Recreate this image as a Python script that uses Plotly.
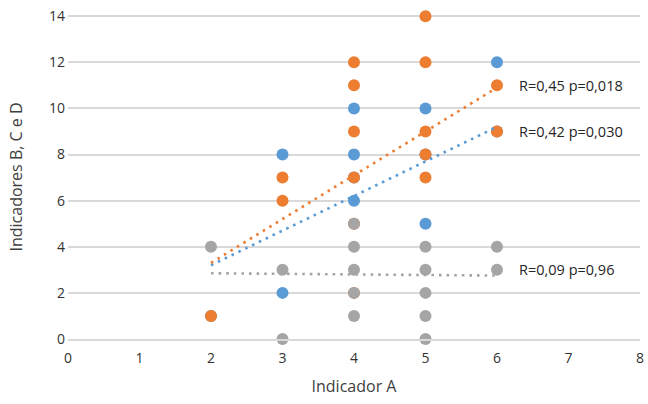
import plotly.graph_objects as go

# Series B (blue), C (orange), D (gray): x = Indicador A, y = indicator value
b_x = [2, 3, 3, 4, 4, 4, 4, 5, 5, 5, 6, 6]
b_y = [1, 8, 2, 10, 8, 7, 6, 10, 8, 5, 12, 9]
c_x = [2, 3, 3, 4, 4, 4, 4, 4, 4, 5, 5, 5, 5, 5, 6, 6]
c_y = [1, 7, 6, 12, 11, 9, 7, 5, 2, 14, 12, 9, 8, 7, 11, 9]
d_x = [2, 3, 3, 4, 4, 4, 4, 4, 5, 5, 5, 5, 5, 6, 6]
d_y = [4, 3, 0, 5, 4, 3, 2, 1, 4, 3, 2, 1, 0, 4, 3]

# Trend lines (endpoints at x=2 and x=6)
trend_x = [2, 6]
trend_b = [3.2, 9.2]
trend_c = [3.3, 10.9]
trend_d = [2.85, 2.75]

labels = ["R=0,45 p=0,018", "R=0,42 p=0,030", "R=0,09 p=0,96"]
label_y = [11.0, 9.0, 3.0]

x_ticks = [0, 1, 2, 3, 4, 5, 6, 7, 8]
y_ticks = [0, 2, 4, 6, 8, 10, 12, 14]

BLUE = "#5B9BD5"
ORANGE = "#ED7D31"
GRAY = "#A5A5A5"
TXT = "#333333"

fig = go.Figure()
for xs, ys, col in [(b_x, b_y, BLUE), (c_x, c_y, ORANGE), (d_x, d_y, GRAY)]:
    fig.add_trace(go.Scatter(x=xs, y=ys, mode="markers", cliponaxis=False,
                             marker=dict(color=col, size=12, line=dict(width=0)),
                             showlegend=False, hoverinfo="skip"))
for ys, col in [(trend_b, BLUE), (trend_c, ORANGE), (trend_d, GRAY)]:
    fig.add_trace(go.Scatter(x=trend_x, y=ys, mode="lines", cliponaxis=False,
                             line=dict(color=col, width=2.6, dash="2.6px,5px"),
                             showlegend=False, hoverinfo="skip"))

for t, yv in zip(labels, label_y):
    fig.add_annotation(x=6.28, y=yv, text=t, showarrow=False, xanchor="left",
                       yanchor="middle", font=dict(size=14.5, color="#262626"))

fig.update_layout(
    width=648, height=404,
    margin=dict(l=68, r=8, t=15, b=65),
    plot_bgcolor="white", paper_bgcolor="white",
    font=dict(family="Open Sans", color=TXT, size=14),
    xaxis=dict(range=[0, 8], tickvals=x_ticks, showgrid=False, zeroline=False,
               showline=True, linecolor="#D9D9D9", linewidth=1.5, automargin=False,
               title=dict(text="Indicador A", font=dict(size=16, color="#404040"), standoff=15),
               tickfont=dict(size=14, color=TXT), ticks="", ticklabelstandoff=5,
               ticklabeloverflow="allow", fixedrange=True),
    yaxis=dict(range=[0, 14.05], tickvals=y_ticks, showgrid=True, gridcolor="#D9D9D9",
               gridwidth=1.5, zeroline=False, showline=False, automargin=False,
               title=dict(text="Indicadores B, C e D", font=dict(size=16, color="#404040"), standoff=22),
               tickfont=dict(size=14, color=TXT), ticks="", ticklabelstandoff=2,
               ticklabeloverflow="allow", fixedrange=True),
)

fig.write_html("out.html", config={"displayModeBar": False},
               post_script="document.body.style.margin='0';document.body.style.overflow='hidden';")
